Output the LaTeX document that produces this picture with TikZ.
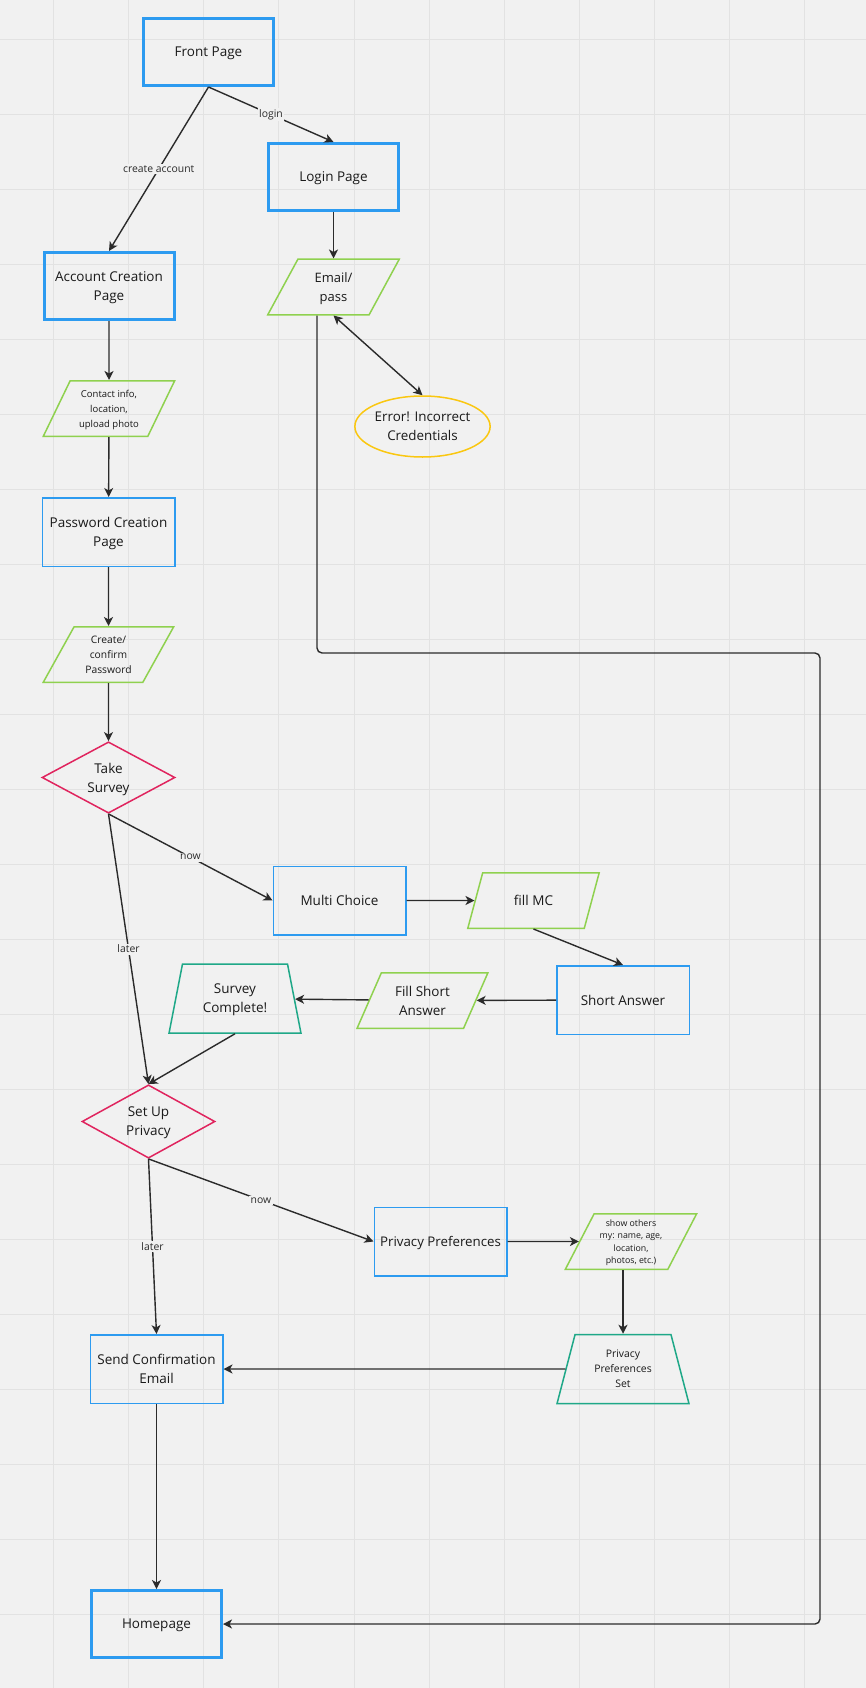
\documentclass[tikz,border=0pt]{standalone}
\usepackage{fontspec}
\setmainfont{Open Sans}
\usetikzlibrary{shapes.geometric,arrows.meta}

\definecolor{boardbg}{HTML}{F1F1F1}
\definecolor{gridline}{HTML}{E2E2E2}
\definecolor{miroblue}{HTML}{2D9BF0}
\definecolor{mirogreen}{HTML}{8FD14F}
\definecolor{mirored}{HTML}{E0245E}
\definecolor{miroteal}{HTML}{1FA888}
\definecolor{miroyellow}{HTML}{FAC710}
\definecolor{ink}{HTML}{2B2B2B}
\definecolor{textdark}{HTML}{1A1A1A}

\tikzset{
  bigfont/.style={font=\fontsize{13.5}{19}\selectfont},
  pagebox/.style={draw=miroblue, line width=3pt, minimum width=130pt, minimum height=67pt,
    inner sep=2pt, text depth=0pt, align=center, text=textdark, bigfont},
  stepbox/.style={draw=miroblue, line width=1.5pt, minimum width=132.5pt, minimum height=68.5pt,
    inner sep=2pt, text depth=0pt, align=center, text=textdark, bigfont},
  inputbox/.style={trapezium, trapezium left angle=61, trapezium right angle=119,
    trapezium stretches=true, draw=mirogreen, line width=1.5pt, minimum width=131.5pt,
    minimum height=55.5pt, inner sep=0pt, text depth=0pt, align=center, text=textdark,
    font=\fontsize{13}{19}\selectfont},
  donebox/.style={trapezium, trapezium left angle=74, trapezium right angle=74,
    trapezium stretches=true, draw=miroteal, line width=1.5pt, minimum width=132.5pt,
    minimum height=69pt, inner sep=0pt, text depth=0pt, align=center, text=textdark, bigfont},
  choicebox/.style={diamond, draw=mirored, line width=1.5pt, minimum width=133pt,
    minimum height=69pt, inner sep=0pt, text depth=0pt, align=center, text=textdark, bigfont},
  errorbubble/.style={ellipse, draw=miroyellow, line width=1.5pt, minimum width=131pt,
    minimum height=61pt, inner sep=0pt, text depth=0pt, align=center, text=textdark,
    font=\fontsize{13.4}{19}\selectfont},
  flow/.style={draw=ink, line width=1.4pt, -{Stealth[length=9pt, width=9pt, inset=2.5pt]}},
  edgelabel/.style={fill=boardbg, inner sep=1.5pt, text=ink, font=\fontsize{10.4}{12}\selectfont}
}

\begin{document}
\begin{tikzpicture}[x=1pt, y=-1pt]
  \useasboundingbox (0,0) rectangle (866,1688);
  \fill[boardbg] (0,0) rectangle (866,1688);
  \foreach \gx in {53.6,128.7,...,805} \draw[gridline, line width=1pt] (\gx,0) -- (\gx,1688);
  \foreach \gy in {39.3,114.3,...,1620} \draw[gridline, line width=1pt] (0,\gy) -- (866,\gy);

  \node[pagebox] (front) at (208.5,52) {Front Page};
  \node[pagebox] (login) at (333.5,177) {Login Page};
  \node[pagebox] (account) at (109,286) {Account Creation\\Page};
  \node[inputbox] (email) at (333.5,287) {Email/\\pass};
  \node[errorbubble] (error) at (422.5,426.5) {Error! Incorrect\\Credentials};
  \node[inputbox, font=\fontsize{9.5}{15}\selectfont] (contact) at (109,408.5) {Contact info,\\location,\\upload photo};
  \node[stepbox] (password) at (108.5,532) {Password Creation\\Page};
  \node[inputbox, font=\fontsize{10.3}{15}\selectfont] (confirm) at (108.5,654.5) {Create/\\confirm\\Password};
  \node[choicebox] (survey) at (108.5,777.5) {Take\\Survey};
  \node[stepbox] (multi) at (339.5,900.5) {Multi Choice};
  \node[inputbox, bigfont] (fillmc) at (533.5,900.5) {fill MC};
  \node[stepbox] (short) at (623,1000) {Short Answer};
  \node[inputbox, bigfont] (fillshort) at (422.5,1000.5) {Fill Short\\Answer};
  \node[donebox] (complete) at (235,998.5) {Survey\\Complete!};
  \node[choicebox] (privacy) at (148.5,1121.5) {Set Up\\Privacy};
  \node[stepbox, font=\fontsize{13.3}{19}\selectfont] (prefs) at (440.5,1241.5) {Privacy Preferences};
  \node[inputbox, font=\fontsize{8.8}{12.5}\selectfont] (others) at (631,1241.5) {show others\\my: name, age,\\location,\\photos, etc.)};
  \node[donebox, font=\fontsize{10.4}{15}\selectfont] (prefsset) at (623,1369) {Privacy\\Preferences\\Set};
  \node[stepbox] (mail) at (156.5,1369) {Send Confirmation\\Email};
  \node[pagebox] (home) at (156.5,1624) {Homepage};
  \coordinate (bend) at (820,653);

  \draw[flow] (front.south) -- node[edgelabel] {create account} (account.north);
  \draw[flow] (front.south) -- node[edgelabel] {login} (login.north);
  \draw[flow] (login) -- (email);
  \draw[flow, {Stealth[length=9pt, width=9pt, inset=2.5pt]}-{Stealth[length=9pt, width=9pt, inset=2.5pt]}] (email.south) -- (error.north);
  \draw[flow, rounded corners=5pt] ([xshift=-16.5pt]email.south) |- (bend) |- (home.east);
  \draw[flow] (account) -- (contact);
  \draw[flow] (contact) -- (password);
  \draw[flow] (password) -- (confirm);
  \draw[flow] (confirm) -- (survey);
  \draw[flow] (survey.south) -- node[edgelabel] {now} (multi.west);
  \draw[flow] (survey.south) -- node[edgelabel] {later} (privacy.north);
  \draw[flow] (multi) -- (fillmc);
  \draw[flow] (fillmc.south) -- (short.north);
  \draw[flow] (short) -- (fillshort);
  \draw[flow] (fillshort) -- (complete);
  \draw[flow] (complete.south) -- (privacy.north);
  \draw[flow] (privacy.south) -- node[edgelabel] {now} (prefs.west);
  \draw[flow] (privacy.south) -- node[edgelabel] {later} (mail.north);
  \draw[flow] (prefs) -- (others);
  \draw[flow] (prefsset.north |- others.south) -- (prefsset.north);
  \draw[flow] (prefsset) -- (mail);
  \draw[flow] (mail) -- (home);
\end{tikzpicture}
\end{document}
